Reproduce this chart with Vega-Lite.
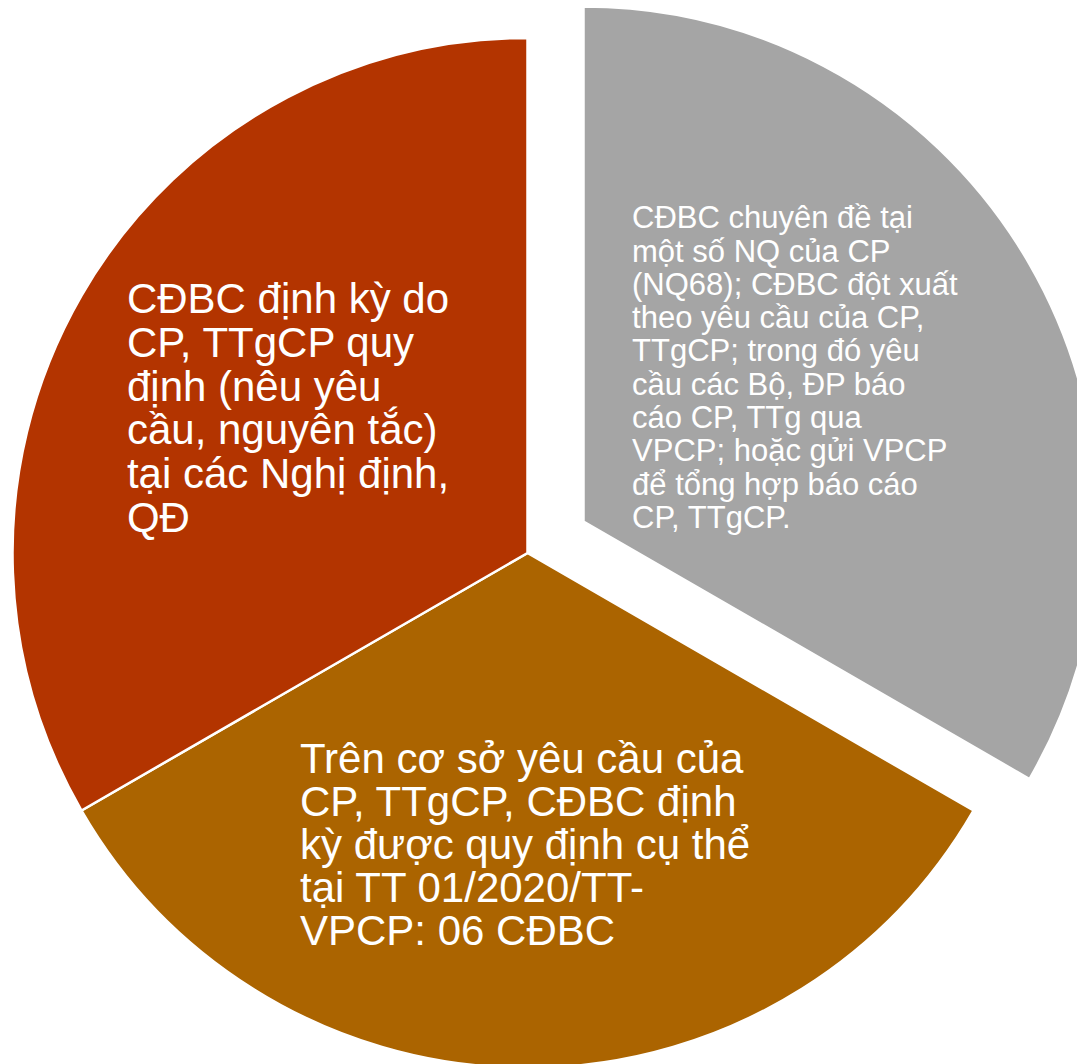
{
  "$schema": "https://vega.github.io/schema/vega-lite/v6.json",
  "width": 1055,
  "height": 1106,
  "padding": {"left": 0, "top": 0, "right": 22, "bottom": 0},
  "autosize": {"type": "none"},
  "background": "white",
  "view": {"stroke": null},
  "data": {
    "values": [
      {"part": "grey", "order": 1, "value": 1, "label": "CĐBC chuyên đề tại\nmột số NQ của CP\n(NQ68); CĐBC đột xuất\ntheo yêu cầu của CP,\nTTgCP; trong đó yêu\ncầu các Bộ, ĐP báo\ncáo CP, TTg qua\nVPCP; hoặc gửi VPCP\nđể tổng hợp báo cáo\nCP, TTgCP."},
      {"part": "brown", "order": 2, "value": 1, "label": "Trên cơ sở yêu cầu của\nCP, TTgCP, CĐBC định\nkỳ được quy định cụ thể\ntại TT 01/2020/TT-\nVPCP: 06 CĐBC"},
      {"part": "red", "order": 3, "value": 1, "label": "CĐBC định kỳ do\nCP, TTgCP quy\nđịnh (nêu yêu\ncầu, nguyên tắc)\ntại các Nghị định,\nQĐ"}
    ]
  },
  "encoding": {
    "theta": {"field": "value", "type": "quantitative", "stack": true, "scale": {"domain": [0, 3]}},
    "order": {"field": "order", "type": "quantitative"}
  },
  "layer": [
    {
      "mark": {"type": "arc", "outerRadius": 515, "stroke": "white", "strokeWidth": 2.5},
      "encoding": {
        "color": {"field": "part", "type": "nominal", "scale": {"domain": ["grey", "brown", "red"], "range": ["#A5A5A5", "#AB6400", "#B33400"]}, "legend": null},
        "opacity": {"condition": {"test": "datum.part === 'grey'", "value": 0}, "value": 1}
      }
    },
    {
      "mark": {"type": "arc", "outerRadius": 515, "stroke": "white", "strokeWidth": 2.5, "xOffset": 56, "yOffset": -31.5},
      "encoding": {
        "color": {"field": "part", "type": "nominal", "legend": null},
        "opacity": {"condition": {"test": "datum.part === 'grey'", "value": 1}, "value": 0}
      }
    },
    {
      "mark": {"type": "text", "radius": 272, "align": "left", "baseline": "alphabetic", "lineBreak": "\n", "font": "Liberation Sans", "fontSize": 42, "lineHeight": 43.8, "fill": "white", "dx": -165, "dy": -104},
      "encoding": {
        "text": {"field": "label", "type": "nominal"},
        "opacity": {"condition": {"test": "datum.part === 'red'", "value": 1}, "value": 0}
      }
    },
    {
      "mark": {"type": "text", "radius": 293, "align": "left", "baseline": "alphabetic", "lineBreak": "\n", "font": "Liberation Sans", "fontSize": 42, "lineHeight": 43, "fill": "white", "dx": -227.5, "dy": -72.7},
      "encoding": {
        "text": {"field": "label", "type": "nominal"},
        "opacity": {"condition": {"test": "datum.part === 'brown'", "value": 1}, "value": 0}
      }
    },
    {
      "mark": {"type": "text", "radius": 290, "align": "left", "baseline": "alphabetic", "lineBreak": "\n", "font": "Liberation Sans", "fontSize": 31, "lineHeight": 33.3, "fill": "white", "dx": -146.6, "dy": -179.7},
      "encoding": {
        "text": {"field": "label", "type": "nominal"},
        "opacity": {"condition": {"test": "datum.part === 'grey'", "value": 1}, "value": 0}
      }
    }
  ]
}
